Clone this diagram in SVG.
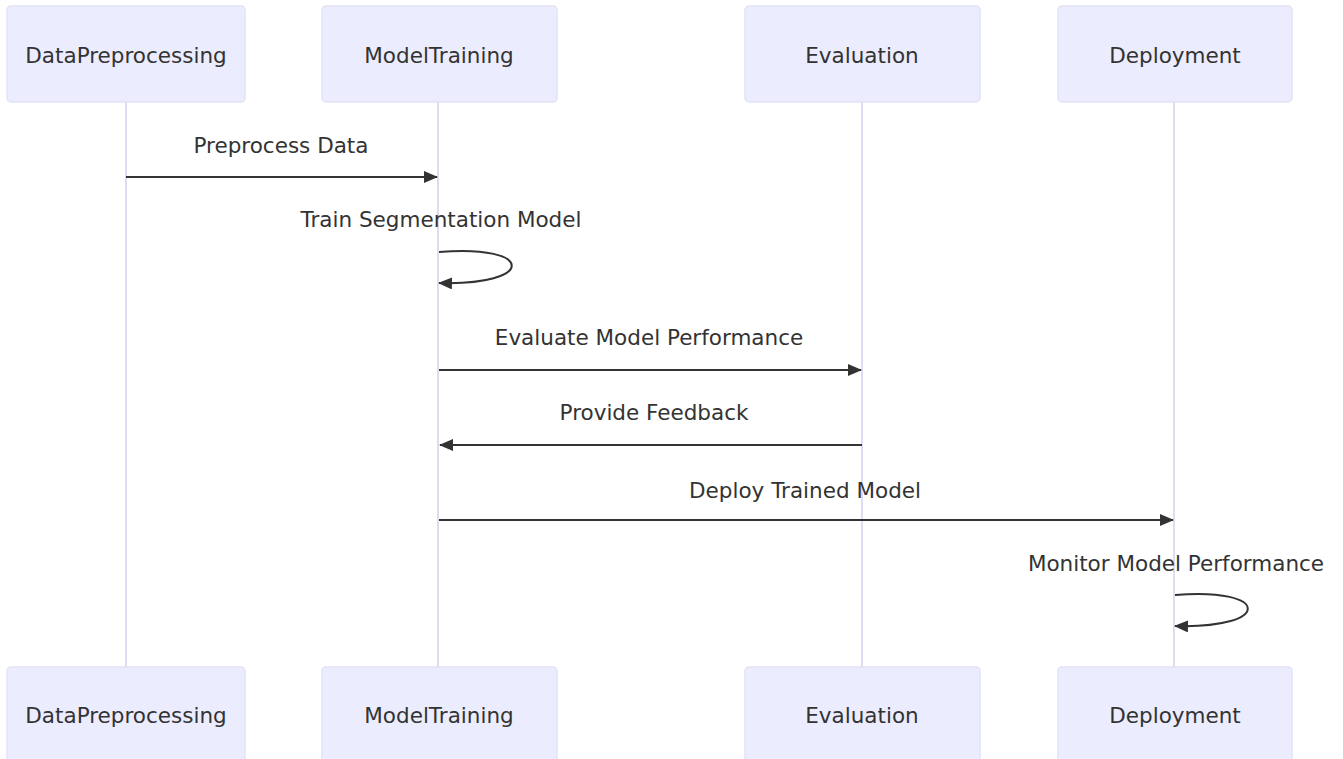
<svg xmlns="http://www.w3.org/2000/svg" width="1343" height="759" viewBox="0 0 1343 759">
<style>
.actor{fill:#ECECFF;stroke:#e2e2f6;stroke-width:1.5}
.atext{font-family:"DejaVu Sans",Verdana,sans-serif;font-size:21.5px;fill:#333;text-anchor:middle;dominant-baseline:central}
.life{stroke:#dcdcf2;stroke-width:2}
.msg{stroke:#333;stroke-width:2;fill:none}
.mtext{font-family:"DejaVu Sans",Verdana,sans-serif;font-size:21.5px;fill:#333;text-anchor:middle;dominant-baseline:central}
</style>
<defs>
<marker id="arrow" viewBox="0 0 14 12" refX="13" refY="6" markerWidth="14" markerHeight="12" markerUnits="userSpaceOnUse" orient="auto">
<path d="M0,0 L14,6 L0,12 z" fill="#333"/>
</marker>
</defs>
<rect width="1343" height="759" fill="#fff"/>
<g id="lifelines">
<line class="life" x1="126" y1="102" x2="126" y2="667"/>
<line class="life" x1="438" y1="102" x2="438" y2="667"/>
<line class="life" x1="862" y1="102" x2="862" y2="667"/>
<line class="life" x1="1174" y1="102" x2="1174" y2="667"/>
</g>
<g id="actor-DataPreprocessing-top"><rect class="actor" x="7" y="6" width="238" height="96" rx="4"/><text class="atext" x="126" y="55">DataPreprocessing</text></g>
<g id="actor-ModelTraining-top"><rect class="actor" x="322" y="6" width="235" height="96" rx="4"/><text class="atext" x="439" y="55">ModelTraining</text></g>
<g id="actor-Evaluation-top"><rect class="actor" x="745" y="6" width="235" height="96" rx="4"/><text class="atext" x="862" y="55">Evaluation</text></g>
<g id="actor-Deployment-top"><rect class="actor" x="1058" y="6" width="234" height="96" rx="4"/><text class="atext" x="1175" y="55">Deployment</text></g>
<g id="actor-DataPreprocessing-bottom"><rect class="actor" x="7" y="667" width="238" height="96" rx="4"/><text class="atext" x="126" y="715">DataPreprocessing</text></g>
<g id="actor-ModelTraining-bottom"><rect class="actor" x="322" y="667" width="235" height="96" rx="4"/><text class="atext" x="439" y="715">ModelTraining</text></g>
<g id="actor-Evaluation-bottom"><rect class="actor" x="745" y="667" width="235" height="96" rx="4"/><text class="atext" x="862" y="715">Evaluation</text></g>
<g id="actor-Deployment-bottom"><rect class="actor" x="1058" y="667" width="234" height="96" rx="4"/><text class="atext" x="1175" y="715">Deployment</text></g>
<g id="messages">
<text class="mtext" x="281" y="145">Preprocess Data</text>
<line class="msg" x1="126" y1="177" x2="437" y2="177" marker-end="url(#arrow)"/>
<text class="mtext" x="441" y="219">Train Segmentation Model</text>
<path class="msg" d="M439,252 C536,244 536,286 439,283" marker-end="url(#arrow)"/>
<text class="mtext" x="649" y="337">Evaluate Model Performance</text>
<line class="msg" x1="439" y1="370" x2="861" y2="370" marker-end="url(#arrow)"/>
<text class="mtext" x="654" y="412">Provide Feedback</text>
<line class="msg" x1="862" y1="445" x2="440" y2="445" marker-end="url(#arrow)"/>
<text class="mtext" x="805" y="490">Deploy Trained Model</text>
<line class="msg" x1="439" y1="520" x2="1173" y2="520" marker-end="url(#arrow)"/>
<text class="mtext" x="1176" y="563">Monitor Model Performance</text>
<path class="msg" d="M1175,595 C1272,587 1272,629 1175,626" marker-end="url(#arrow)"/>
</g>
</svg>
